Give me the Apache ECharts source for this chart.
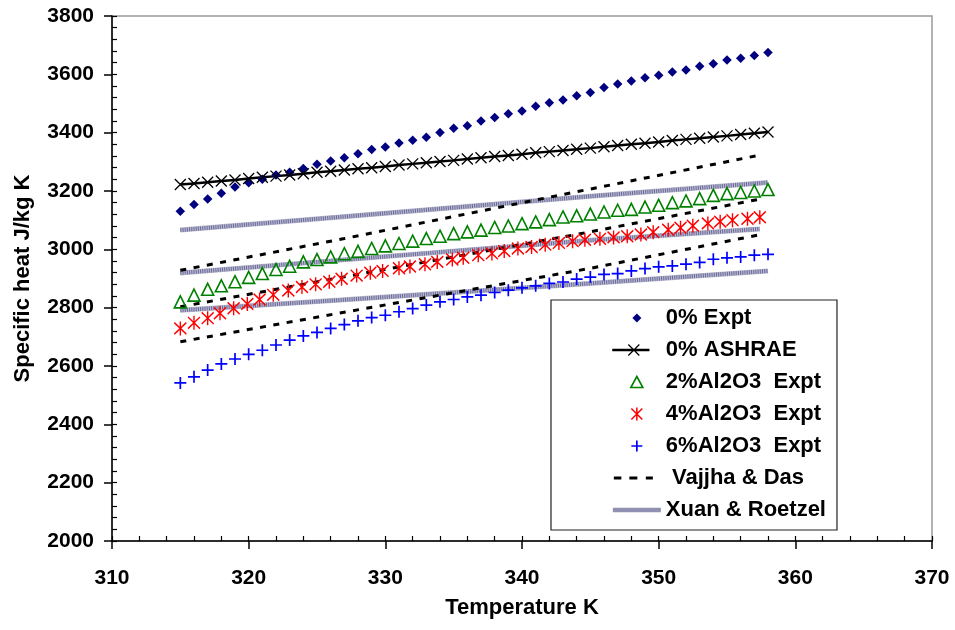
<!DOCTYPE html>
<html>
<head>
<meta charset="utf-8">
<title>Specific heat vs temperature</title>
<script src="https://cdn.jsdelivr.net/npm/echarts@6/dist/echarts.min.js"></script>
<style>
  html, body { margin: 0; padding: 0; background: #fff; }
  #chart { width: 955px; height: 630px; }
</style>
</head>
<body>
<div id="chart"></div>
<script>
// Measured temperatures (K)
const tempK = [315, 316, 317, 318, 319, 320, 321, 322, 323, 324, 325, 326, 327, 328, 329, 330,
  331, 332, 333, 334, 335, 336, 337, 338, 339, 340, 341, 342, 343, 344, 345, 346,
  347, 348, 349, 350, 351, 352, 353, 354, 355, 356, 357, 358];
const tempK4 = [315.0, 316.0, 317.0, 317.9, 318.9, 319.9, 320.8, 321.8, 322.9, 323.9, 324.9,
  325.9, 326.8, 327.9, 328.9, 329.8, 331.0, 331.8, 332.9, 333.8, 334.9, 335.7, 336.8, 337.8,
  338.7, 339.7, 340.7, 341.7, 342.7, 343.7, 344.6, 345.7, 346.7, 347.7, 348.7, 349.6, 350.7,
  351.6, 352.5, 353.6, 354.5, 355.4, 356.5, 357.4];

// Specific heat (J/kg K)
const cp0Expt = [3131, 3154, 3173, 3192, 3214, 3228, 3240, 3255, 3264, 3277, 3292, 3303, 3314,
  3328, 3342, 3351, 3365, 3374, 3384, 3401, 3415, 3424, 3440, 3452, 3465, 3474, 3491, 3503,
  3512, 3527, 3538, 3555, 3567, 3577, 3588, 3597, 3608, 3615, 3628, 3636, 3649, 3655, 3665, 3675];
const cp0Ashrae = [3222, 3226, 3230, 3234, 3238, 3243, 3247, 3251, 3255, 3259, 3264, 3268, 3272,
  3276, 3280, 3284, 3289, 3293, 3297, 3301, 3305, 3310, 3314, 3318, 3322, 3326, 3331, 3335,
  3339, 3343, 3347, 3352, 3356, 3360, 3364, 3368, 3373, 3377, 3381, 3385, 3389, 3394, 3398, 3402];
const cp2Expt = [2820, 2843, 2863, 2875, 2889, 2904, 2917, 2931, 2942, 2957, 2965, 2974, 2985,
  2993, 3003, 3012, 3020, 3028, 3037, 3045, 3054, 3060, 3066, 3075, 3080, 3088, 3094, 3102,
  3111, 3115, 3121, 3128, 3134, 3137, 3145, 3151, 3160, 3166, 3174, 3185, 3191, 3195, 3200, 3205];
const cp4Expt = [2729, 2748, 2764, 2781, 2798, 2813, 2828, 2844, 2859, 2871, 2880, 2889, 2899,
  2910, 2920, 2926, 2935, 2941, 2949, 2957, 2965, 2971, 2980, 2986, 2994, 3003, 3008, 3016,
  3022, 3028, 3033, 3036, 3041, 3045, 3051, 3059, 3067, 3074, 3081, 3089, 3095, 3100, 3105, 3110];
const cp6Expt = [2542, 2563, 2586, 2607, 2624, 2640, 2654, 2672, 2689, 2703, 2715, 2729, 2742,
  2755, 2766, 2774, 2786, 2797, 2809, 2820, 2828, 2837, 2843, 2852, 2860, 2868, 2875, 2883,
  2888, 2898, 2905, 2914, 2917, 2926, 2934, 2940, 2943, 2949, 2955, 2966, 2971, 2974, 2980, 2983];

// Vajjha & Das correlation for 2, 4 and 6 % Al2O3
const vd2T = [315, 327, 343, 357.4];
const vd2Cp = [2928, 3037, 3188, 3323];
const vd4T = [315, 332.3, 344.1, 357.4];
const vd4Cp = [2803, 2951, 3052, 3172];
const vd6T = [315, 327.2, 344.9, 357.4];
const vd6Cp = [2683, 2786, 2934, 3050];

// Xuan & Roetzel model for 2, 4 and 6 % Al2O3
const xr2T = [315, 326.7, 345, 358];
const xr2Cp = [3066, 3111, 3182, 3229];
const xr4T = [315, 326.7, 345, 357.4];
const xr4Cp = [2919, 2963, 3031, 3070];
const xr6T = [315, 326.7, 344.9, 358];
const xr6Cp = [2791, 2826, 2883, 2926];

// Axis ticks
const xTicks = { min: 310, max: 370, step: 10 };
const yTicks = { min: 2000, max: 3800, step: 200 };

const FONT = '"Liberation Sans", Arial, Helvetica, sans-serif';
const pairs = (xs, ys) => xs.map((x, i) => [x, ys[i]]);

const SYM_X = 'path://M0,0L10,10M10,0L0,10';
const SYM_STAR = 'path://M0,1L10,11M10,1L0,11M5,0L5,12';
const SYM_PLUS = 'path://M5,0L5,10M0,5L10,5';

const VD_NAME = 'Vajjha & Das';
const XR_NAME = 'Xuan & Roetzel';
const XR_BASE = '#b8b8d0';
const XR_GRAIN = '#6a6a98';

function vdSeries(xs, ys) {
  return {
    name: VD_NAME, type: 'line', data: pairs(xs, ys), symbol: 'none',
    lineStyle: { color: '#000', width: 3, type: [6, 7.5] }, z: 3
  };
}
// Textured band: pale base stroke with a fine dark dotted stroke over it
function xrSeries(xs, ys) {
  return [
    {
      name: XR_NAME, type: 'line', data: pairs(xs, ys), symbol: 'none',
      lineStyle: { color: XR_BASE, width: 5 }, z: 1
    },
    {
      name: XR_NAME, type: 'line', data: pairs(xs, ys), symbol: 'none',
      lineStyle: { color: XR_GRAIN, width: 4, type: [1, 1.2] }, z: 1
    }
  ];
}

const axisText = { fontFamily: FONT, fontWeight: 'bold', fontSize: 21, color: '#000' };
const nameText = { fontFamily: FONT, fontWeight: 'bold', fontSize: 22, color: '#000' };
const plainNumber = v => String(v);

function outerAxis(t, extra) {
  return Object.assign({
    type: 'value', min: t.min, max: t.max, interval: t.step,
    axisLine: { show: true, lineStyle: { color: '#000', width: 1.5 } },
    axisTick: { show: true, inside: false, length: 8, lineStyle: { color: '#000', width: 1.5 } },
    minorTick: { show: false },
    splitLine: { show: false },
    nameTextStyle: Object.assign({}, nameText)
  }, extra);
}
function innerAxis(t, extra) {
  return Object.assign({
    type: 'value', min: t.min, max: t.max, interval: t.step,
    axisLine: { show: false },
    axisTick: { show: true, inside: true, length: 5, lineStyle: { color: '#000', width: 1.2 } },
    minorTick: { show: true, splitNumber: 5, length: 5, lineStyle: { color: '#000', width: 1.2 } },
    splitLine: { show: false },
    axisLabel: { show: false }
  }, extra);
}

const chart = echarts.init(document.getElementById('chart'), null, { renderer: 'canvas' });
chart.setOption({
  animation: false,
  backgroundColor: '#fff',
  grid: {
    left: 112, right: 23, top: 16, bottom: 89,
    show: true, borderColor: '#9a9a9a', borderWidth: 1.5, backgroundColor: 'transparent'
  },
  xAxis: [
    outerAxis(xTicks, {
      position: 'bottom', name: 'Temperature K', nameLocation: 'middle', nameGap: 56,
      axisLabel: Object.assign({ margin: 27, formatter: plainNumber }, axisText)
    }),
    innerAxis(xTicks, { position: 'bottom' })
  ],
  yAxis: [
    outerAxis(yTicks, {
      position: 'left', name: 'Specific heat J/kg K', nameLocation: 'middle', nameGap: 78,
      nameRotate: 90,
      axisLabel: Object.assign({ margin: 18, formatter: plainNumber }, axisText)
    }),
    innerAxis(yTicks, { position: 'left' })
  ],
  legend: {
    orient: 'vertical', left: 551, top: 300,
    itemWidth: 48, itemHeight: 14, itemGap: 10,
    padding: [7, 11, 9, 61],
    borderColor: '#222', borderWidth: 1.2, backgroundColor: '#fff',
    selectedMode: false, symbolKeepAspect: true,
    textStyle: { fontFamily: FONT, fontWeight: 'bold', fontSize: 22, lineHeight: 22, color: '#000' },
    formatter: name => (name === VD_NAME ? ' ' + name : name),
    data: [
      { name: '0% Expt', icon: 'path://M0,0M48,14M24,2.5L28.5,7L24,11.5L19.5,7Z',
        itemStyle: { color: '#000080', borderWidth: 0, opacity: 1 } },
      { name: '0% ASHRAE', icon: 'path://M0,0M48,14M0,6.4L36,6.4L36,7.6L0,7.6ZM15.5,1.5L26.5,12.5M26.5,1.5L15.5,12.5',
        itemStyle: { color: '#000', borderColor: '#000', borderWidth: 1.2, opacity: 1 } },
      { name: '2%Al2O3  Expt', icon: 'path://M0,0M48,14M24,1.5L30,12.5L18,12.5Z',
        itemStyle: { color: 'transparent', borderColor: '#008000', borderWidth: 1.6, opacity: 1 } },
      { name: '4%Al2O3  Expt', icon: 'path://M0,0M48,14M18.5,1.5L29.5,12.5M29.5,1.5L18.5,12.5M24,0.5L24,13.5',
        itemStyle: { color: 'transparent', borderColor: '#ff0000', borderWidth: 1.5, opacity: 1 } },
      { name: '6%Al2O3  Expt', icon: 'path://M0,0M48,14M24,1.5L24,12.5M18.5,7L29.5,7',
        itemStyle: { color: 'transparent', borderColor: '#0000ff', borderWidth: 1.7, opacity: 1 } },
      { name: VD_NAME, icon: 'path://M0,0M48,14M1,5.5L8.5,5.5L8.5,8.5L1,8.5ZM16.5,5.5L24.5,5.5L24.5,8.5L16.5,8.5ZM33,5.5L40,5.5L40,8.5L33,8.5Z',
        itemStyle: { color: '#000', borderWidth: 0, opacity: 1 } },
      { name: XR_NAME, icon: 'path://M0,0M48,14M0,4.7L48,4.7L48,9.3L0,9.3Z',
        itemStyle: { color: '#9090b2', borderWidth: 0, opacity: 1 } }
    ]
  },
  series: [
    ...xrSeries(xr2T, xr2Cp),
    ...xrSeries(xr4T, xr4Cp),
    ...xrSeries(xr6T, xr6Cp),
    {
      name: '0% Expt', type: 'scatter', data: pairs(tempK, cp0Expt),
      symbol: 'diamond', symbolSize: 9.5, itemStyle: { color: '#000080', opacity: 1 }, z: 4
    },
    {
      name: '0% ASHRAE', type: 'line', data: pairs(tempK, cp0Ashrae),
      symbol: SYM_X, symbolSize: 11, showSymbol: true,
      lineStyle: { color: '#000', width: 2.5 },
      itemStyle: { color: 'transparent', borderColor: '#000', borderWidth: 1.3, opacity: 1 }, z: 4
    },
    {
      name: '2%Al2O3  Expt', type: 'scatter', data: pairs(tempK, cp2Expt),
      symbol: 'triangle', symbolSize: [12, 12],
      itemStyle: { color: 'transparent', borderColor: '#008000', borderWidth: 1.6, opacity: 1 }, z: 4
    },
    {
      name: '4%Al2O3  Expt', type: 'scatter', data: pairs(tempK4, cp4Expt),
      symbol: SYM_STAR, symbolSize: [12, 14],
      itemStyle: { color: 'transparent', borderColor: '#ff0000', borderWidth: 1.5, opacity: 1 }, z: 4
    },
    {
      name: '6%Al2O3  Expt', type: 'scatter', data: pairs(tempK, cp6Expt),
      symbol: SYM_PLUS, symbolSize: 12,
      itemStyle: { color: 'transparent', borderColor: '#0000ff', borderWidth: 1.7, opacity: 1 }, z: 4
    },
    vdSeries(vd2T, vd2Cp),
    vdSeries(vd4T, vd4Cp),
    vdSeries(vd6T, vd6Cp)
  ]
});
</script>
</body>
</html>
